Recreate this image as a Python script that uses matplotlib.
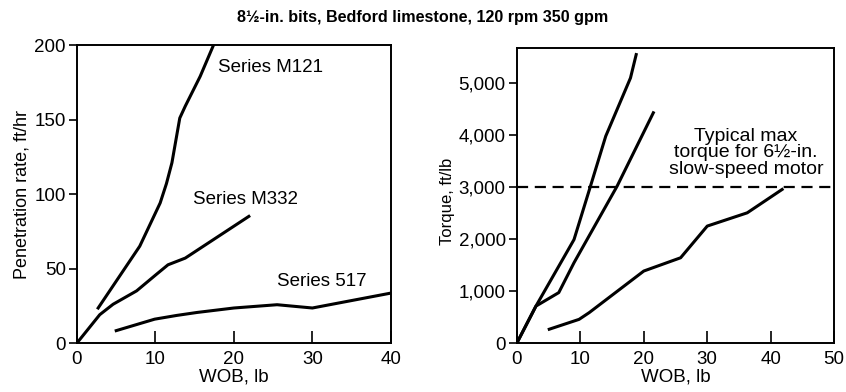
import matplotlib
matplotlib.use('Agg')
import matplotlib.pyplot as plt

plt.rcParams['font.family'] = ['Liberation Sans', 'DejaVu Sans']

# penetration rate vs WOB
m121_wob = [2.7, 8.0, 10.6, 11.4, 12.1, 13.1, 13.8, 15.7, 17.4]
m121_rate = [23.5, 65, 94, 107, 121, 151, 159, 179, 200]
m332_wob = [0, 2.9, 4.6, 7.6, 10.1, 11.6, 13.8, 21.9]
m332_rate = [0, 19, 26, 35, 46, 52.5, 57, 85]
s517_wob = [5.0, 9.9, 12.7, 15.3, 20.0, 25.5, 30.0, 40.0]
s517_rate = [8.3, 16, 18.5, 20.5, 23.5, 25.7, 23.5, 33.5]

# torque vs WOB
ta_wob = [0, 3.0, 9.0, 11.6, 14.0, 17.9, 18.8]
ta_torque = [0, 710, 1990, 3020, 3980, 5100, 5550]
tb_wob = [0, 3.0, 6.6, 9.0, 15.8, 21.5]
tb_torque = [0, 710, 970, 1545, 3020, 4430]
tc_wob = [5.1, 9.8, 11.4, 20.0, 25.8, 30.0, 36.3, 41.8]
tc_torque = [265, 455, 585, 1385, 1640, 2250, 2505, 2955]
max_torque = 3000

fig = plt.figure(figsize=(8.46, 3.92), dpi=100)
ax1 = fig.add_axes([0.091, 0.125, 0.371, 0.760])
ax2 = fig.add_axes([0.611, 0.125, 0.375, 0.753])

lw = 2.2
ax1.plot(m121_wob, m121_rate, color='black', lw=lw)
ax1.plot(m332_wob, m332_rate, color='black', lw=lw)
ax1.plot(s517_wob, s517_rate, color='black', lw=lw)
ax1.set_xlim(0, 40)
ax1.set_ylim(0, 200)
ax1.set_xticks([0, 10, 20, 30, 40])
ax1.set_yticks([0, 50, 100, 150, 200])
ax1.text(18.0, 185, 'Series M121', fontsize=13.5, va='center')
ax1.text(14.8, 96, 'Series M332', fontsize=13.5, va='center')
ax1.text(25.5, 41.3, 'Series 517', fontsize=13.5, va='center')
ax1.set_xlabel('WOB, lb', fontsize=13.5, labelpad=0)
ax1.set_ylabel('Penetration rate, ft/hr', fontsize=13, labelpad=3)

ax2.plot(ta_wob, ta_torque, color='black', lw=lw)
ax2.plot(tb_wob, tb_torque, color='black', lw=lw)
ax2.plot(tc_wob, tc_torque, color='black', lw=lw)
ax2.axhline(max_torque, color='black', lw=1.6, ls=(0, (5, 3)))
ax2.set_xlim(0, 50)
ax2.set_ylim(0, 5680)
ax2.set_xticks([0, 10, 20, 30, 40, 50])
ax2.set_yticks([0, 1000, 2000, 3000, 4000, 5000])
ax2.set_yticklabels(['0', '1,000', '2,000', '3,000', '4,000', '5,000'])
ax2.text(36.1, 3660, 'Typical max\ntorque for 6½-in.\nslow-speed motor',
         fontsize=14, ha='center', va='center', linespacing=0.95)
ax2.set_xlabel('WOB, lb', fontsize=13.5, labelpad=0)
ax2.set_ylabel('Torque, ft/lb', fontsize=12, labelpad=4)
ax2.yaxis.set_label_coords(-0.195, 0.48)

for ax in (ax1, ax2):
    for s in ax.spines.values():
        s.set_linewidth(1.4)
    ax.tick_params(axis='x', direction='in', length=9, width=1.2, labelsize=13.5, pad=6)
    ax.tick_params(axis='y', direction='out', length=6, width=1.2, labelsize=13.5, pad=2)

fig.text(0.5, 0.955, '8½-in. bits, Bedford limestone, 120 rpm 350 gpm',
         ha='center', va='center', fontsize=11.6, fontweight='bold')

fig.savefig('out.png', dpi=100)
